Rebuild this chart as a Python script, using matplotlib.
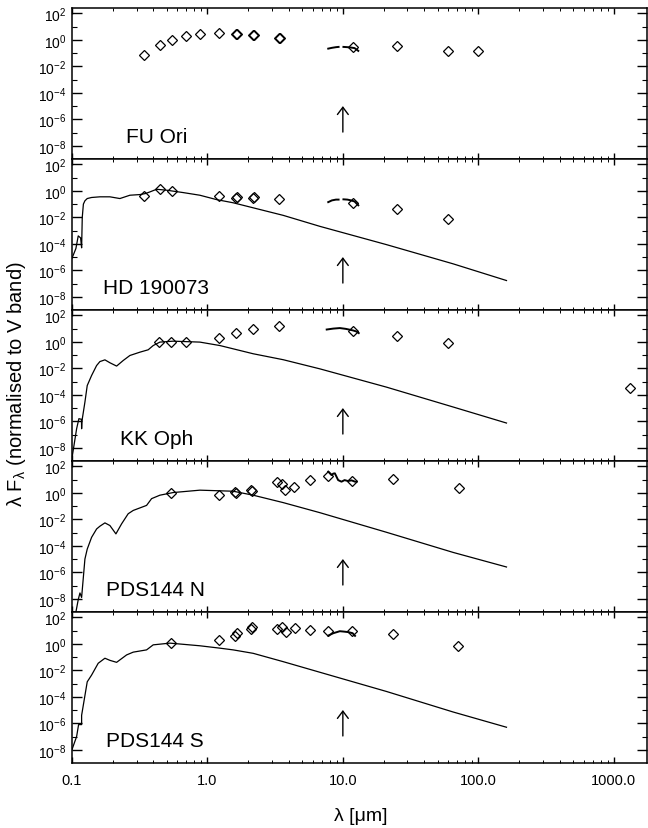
import matplotlib.pyplot as plt
from matplotlib.ticker import FixedLocator, FuncFormatter, NullFormatter, LogLocator
import numpy as np

plt.rcParams['font.family'] = ['Liberation Sans', 'DejaVu Sans']
plt.rcParams['mathtext.fontset'] = 'custom'
plt.rcParams['mathtext.rm'] = 'Liberation Sans'
plt.rcParams['mathtext.it'] = 'Liberation Sans:italic'
plt.rcParams['mathtext.default'] = 'regular'

nan = np.nan

# photometry (wavelength in micron, log10 of lambda F_lambda normalised to V)
fu_wl = [0.34, 0.444, 0.547, 0.69, 0.88, 1.22, 1.62, 1.65, 2.18, 2.21, 3.37, 3.42, 11.9, 24.9, 59.9, 100.3]
fu_logf = [-1.14, -0.38, 0.0, 0.30, 0.48, 0.53, 0.48, 0.45, 0.38, 0.35, 0.15, 0.12, -0.55, -0.48, -0.86, -0.81]
fu_spec_wl = [7.8, 8.3, 8.9, 9.3, nan, 10.1, 10.8, 11.5, 12.2, 12.6, 13.0]
fu_spec_logf = [-0.66, -0.6, -0.55, -0.53, nan, -0.53, -0.55, -0.58, -0.62, -0.72, -0.83]

hd_wl = [0.34, 0.444, 0.547, 1.22, 1.62, 1.65, 2.18, 2.21, 3.37, 11.9, 24.9, 59.9]
hd_logf = [-0.41, 0.17, 0.0, -0.41, -0.53, -0.5, -0.53, -0.5, -0.58, -0.88, -1.34, -2.15]
hd_spec_wl = [7.8, 8.3, 8.9, 9.3, nan, 10.1, 10.8, 11.5, 12.2, 12.6, 13.0]
hd_spec_logf = [-0.85, -0.72, -0.66, -0.66, nan, -0.64, -0.66, -0.72, -0.8, -0.95, -1.09]
hd_mod_wl = [0.100, 0.107, 0.1113, 0.1159, 0.1179, 0.1192, 0.1215, 0.1247, 0.1297, 0.1397, 0.1609,
             0.1907, 0.2260, 0.2679, 0.3176, 0.3500, 0.3763, 0.4217, 0.5, 0.6628, 0.880, 1.169,
             1.55, 2.178, 3.63, 6.77, 21.0, 65.2, 161.4]
hd_mod_logf = [-5.1, -4.35, -3.4, -3.55, -4.3, -2.0, -1.0, -0.75, -0.58, -0.5, -0.45,
               -0.45, -0.58, -0.33, -0.28, -0.2, -0.08, 0.12, 0.05, -0.13, -0.33, -0.66,
               -0.9, -1.28, -1.85, -2.68, -4.06, -5.51, -6.77]

kk_wl = [0.436, 0.541, 0.69, 1.222, 1.623, 2.178, 3.37, 11.91, 24.9, 59.9, 1312]
kk_logf = [0.02, 0.02, 0.02, 0.30, 0.68, 0.98, 1.18, 0.81, 0.43, -0.1, -3.49]
kk_spec_wl = [7.6, 8.5, 9.5, 10.5, 11.9, 12.6, 13.1]
kk_spec_logf = [0.93, 1.0, 1.04, 0.98, 0.86, 0.78, 0.66]
kk_mod_wl = [0.100, 0.1083, 0.1126, 0.1176, 0.1179, 0.1185, 0.1247, 0.1297, 0.1397, 0.1521, 0.1609,
             0.1752, 0.1907, 0.2137, 0.239, 0.2679, 0.3176, 0.3656, 0.3981, 0.446, 0.559, 0.880,
             1.237, 2.178, 3.63, 6.77, 21.0, 65.2, 161.4]
kk_mod_logf = [-8.8, -6.56, -5.8, -5.85, -6.56, -6.0, -4.55, -3.3, -2.54, -1.79, -1.49,
               -1.36, -1.58, -1.83, -1.41, -1.03, -0.78, -0.6, -0.28, -0.02, 0.05, -0.02,
               -0.28, -0.9, -1.35, -2.04, -3.42, -4.92, -6.13]

pn_wl = [0.541, 1.222, 1.596, 1.623, 2.084, 2.12, 3.24, 3.53, 3.73, 4.35, 5.71, 7.79, 11.71, 23.5, 71.5]
pn_logf = [0.0, -0.13, 0.08, 0.0, 0.2, 0.12, 0.84, 0.63, 0.2, 0.46, 1.0, 1.24, 0.92, 1.04, 0.38]
pn_spec_wl = [7.8, 8.25, 8.5, 8.73, 9.23, 9.77, 10.3, 10.9, 11.6, 12.3, 12.6]
pn_spec_logf = [1.6, 1.34, 1.45, 1.47, 0.96, 0.84, 0.96, 0.89, 0.94, 0.84, 0.84]
pn_mod_wl = [0.107, 0.1113, 0.1146, 0.1179, 0.1247, 0.1297, 0.1397, 0.1521, 0.1609, 0.1752, 0.1907,
             0.2112, 0.2327, 0.2602, 0.2835, 0.3557, 0.3873, 0.446, 0.559, 0.88, 1.55, 2.178,
             3.63, 6.77, 21.0, 65.2, 161.4]
pn_mod_logf = [-9.0, -8.07, -7.56, -7.9, -5.0, -4.25, -3.36, -2.73, -2.52, -2.27, -2.47,
               -3.1, -2.34, -1.58, -1.33, -0.95, -0.44, -0.18, 0.02, 0.2, 0.12, -0.18,
               -0.74, -1.5, -2.98, -4.5, -5.6]

ps_wl = [0.541, 1.222, 1.596, 1.643, 2.084, 2.12, 3.24, 3.53, 3.78, 4.42, 5.71, 7.79, 11.71, 23.5, 71.0]
ps_logf = [0.05, 0.31, 0.56, 0.82, 1.15, 1.25, 1.15, 1.25, 0.87, 1.2, 1.02, 0.95, 0.95, 0.76, -0.2]
ps_spec_wl = [7.8, 8.5, 9.5, 10.2, 11.0, 11.8, 12.3]
ps_spec_logf = [0.62, 0.8, 0.95, 0.92, 0.88, 0.8, 0.6]
ps_mod_wl = [0.100, 0.1083, 0.1120, 0.1179, 0.1179, 0.1297, 0.1397, 0.1563, 0.1752, 0.1907, 0.2137,
             0.2533, 0.2835, 0.3557, 0.3981, 0.5288, 0.880, 1.237, 1.55, 2.178, 3.63, 6.77,
             10.0, 21.0, 65.2, 161.4]
ps_mod_logf = [-8.0, -7.0, -6.1, -6.1, -5.4, -2.87, -2.36, -1.47, -1.09, -1.25, -1.4,
               -0.84, -0.63, -0.46, -0.08, 0.05, -0.15, -0.33, -0.46, -0.72, -1.35, -2.15,
               -2.65, -3.6, -5.15, -6.3]

sterne = [
    ("FU Ori", fu_wl, fu_logf, fu_spec_wl, fu_spec_logf, None, None),
    ("HD 190073", hd_wl, hd_logf, hd_spec_wl, hd_spec_logf, hd_mod_wl, hd_mod_logf),
    ("KK Oph", kk_wl, kk_logf, kk_spec_wl, kk_spec_logf, kk_mod_wl, kk_mod_logf),
    ("PDS144 N", pn_wl, pn_logf, pn_spec_wl, pn_spec_logf, pn_mod_wl, pn_mod_logf),
    ("PDS144 S", ps_wl, ps_logf, ps_spec_wl, ps_spec_logf, ps_mod_wl, ps_mod_logf),
]
label_x = [0.094, 0.054, 0.083, 0.06, 0.06]

x_ticks = [0.1, 1.0, 10.0, 100.0, 1000.0]
x_ticklabels = ["0.1", "1.0", "10.0", "100.0", "1000.0"]
y_major = [1e-8, 1e-6, 1e-4, 1e-2, 1e0, 1e2]
y_minor = [1e-7, 1e-5, 1e-3, 1e-1, 1e1]


def potenca(v, pos):
    return r'$10^{%d}$' % round(np.log10(v))


fig, axes = plt.subplots(5, 1, sharex=True, figsize=(6.48, 8.29), dpi=100)
fig.subplots_adjust(left=0.111, right=0.998, top=0.989, bottom=0.0784, hspace=0)

for i, (ax, (ime, wl, lf, swl, slf, mwl, mlf)) in enumerate(zip(axes, sterne)):
    ax.set_xscale('log')
    ax.set_yscale('log')
    if mwl is not None:
        ax.plot(mwl, 10 ** np.array(mlf), '-', color='k', lw=0.9)
    ax.plot(swl, 10 ** np.array(slf), '-', color='k', lw=1.4)
    ax.plot(wl, 10 ** np.array(lf), 'D', ms=4.8, mfc='none', mec='k', mew=0.9)
    ax.annotate('', xy=(10, 1e-5), xytext=(10, 1.1e-7),
                arrowprops=dict(arrowstyle='->,head_length=0.4,head_width=0.3',
                                lw=1, color='k', mutation_scale=13, shrinkA=0, shrinkB=0))
    ax.text(label_x[i], 0.15, ime, transform=ax.transAxes, fontsize=15, va='center', ha='left')

    ax.set_xlim(0.1, 1750)
    ax.set_ylim(1e-9, 2.5e2)
    ax.yaxis.set_major_locator(FixedLocator(y_major))
    ax.yaxis.set_minor_locator(FixedLocator(y_minor))
    ax.yaxis.set_major_formatter(FuncFormatter(potenca))
    ax.yaxis.set_minor_formatter(NullFormatter())
    ax.xaxis.set_major_locator(FixedLocator(x_ticks))
    ax.xaxis.set_minor_locator(LogLocator(base=10, subs=range(2, 10), numticks=20))
    ax.xaxis.set_minor_formatter(NullFormatter())

    ax.tick_params(which='both', direction='in', top=True, right=True)
    ax.tick_params(axis='y', which='major', length=7, width=1, labelsize=10, pad=4)
    ax.tick_params(axis='y', which='minor', length=3.5, width=0.8)
    ax.tick_params(axis='x', which='major', length=4, width=1, labelsize=10.5, pad=7)
    ax.tick_params(axis='x', which='minor', length=2.2, width=0.7)
    for s in ax.spines.values():
        s.set_linewidth(1.1)

axes[-1].set_xticks(x_ticks)
axes[-1].set_xticklabels(x_ticklabels)

fig.text(0.556, 0.015, "λ [μm]", ha='center', va='center', fontsize=14)
fig.text(0.026, 0.536, r"λ F$_{λ}$ (normalised to V band)", ha='center', va='center',
         rotation=90, fontsize=14.5)

fig.savefig("out.png", dpi=100)
